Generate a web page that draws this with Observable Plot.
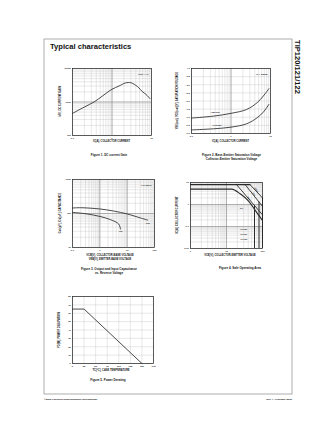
<!DOCTYPE html>
<html><head><meta charset="utf-8">
<script src="https://cdn.jsdelivr.net/npm/d3@7"></script>
<script src="https://cdn.jsdelivr.net/npm/@observablehq/plot@0.6"></script>
<style>
html,body{margin:0;padding:0;background:#fff;}
#page{position:relative;width:336px;height:434px;overflow:hidden;font-family:"Liberation Sans",Arial,sans-serif;}
#page svg.fig{position:absolute;}
</style></head><body><div id="page"></div>
<script>
// ---------- data ----------
// Figure 1: DC current gain (VCE = 4V)
const fig1Current = [0.1, 0.2, 0.35, 0.5, 1, 1.5, 2.2, 3, 4.4, 6, 7.2, 9.2];
const fig1Gain    = [457, 708, 1000, 1340, 2400, 2990, 3700, 3750, 2900, 1995, 1700, 1260];
const fig1XTicks = [0.1, 1, 10];
const fig1YTicks = [100, 1000, 10000];

// Figure 2: saturation voltages (IC = 250 IB)
const fig2Current = [0.1, 0.36, 1, 2.5, 4.6, 6.6, 9.1];
const fig2Vbe     = [0.95, 1.07, 1.24, 1.48, 1.9, 2.31, 2.76];
const fig2Vce     = [0.22, 0.29, 0.39, 0.6, 0.97, 1.32, 1.79];
const fig2XTicks = [0.1, 1, 10];
const fig2YTicks = [0, 0.5, 1, 1.5, 2, 2.5, 3, 3.5, 4];

// Figure 3: capacitance vs reverse voltage (f = 0.1MHz)
const fig3CobV = [0.1, 0.2, 1, 3.2, 10, 30.6, 56];
const fig3Cob  = [145, 148, 136, 118, 97, 74, 64];
const fig3CibV = [0.1, 0.34, 1, 2.45, 4.9, 5.7];
const fig3Cib  = [108, 97, 82, 66, 49, 35];
const fig3XTicks = [0.1, 1, 10, 100];
const fig3YTicks = [10, 100, 1000];

// Figure 4: safe operating area
const soaPulseV = [1, 45];        const soaPulseI = [8, 8];
const soa5msV   = [19, 100];      const soa5msI   = [8, 0.34];
const soa1msV   = [33, 100];      const soa1msI   = [8, 0.82];
const soa100usV = [45, 100];      const soa100usI = [8, 2.0];
const soaDcV = [1, 13.9, 24, 41.7, 61.6, 80, 100];
const soaDcI = [5, 5, 3.08, 1.4, 0.57, 0.31, 0.19];
const soaLimitV = [60, 80, 100];
const soaLimitTop = [0.9, 1.29, 2.0];
const soaLimitNames = ["TIP120", "TIP121", "TIP122"];
const fig4XTicks = [1, 10, 100];
const fig4YTicks = [0.01, 0.1, 1, 10];

// Figure 5: power derating
const fig5Temp  = [0, 25, 150];
const fig5Power = [65, 65, 0];
const fig5XTicks = [0, 25, 50, 75, 100, 125, 150, 175];
const fig5YTicks = [0, 10, 20, 30, 40, 50, 60, 70, 80];

// ---------- helpers ----------
const page = document.getElementById("page");
const INK = "#2a2a2a";
const TICKFS = 2.4;
function logGrid(lo, hi) {
  const v = [];
  for (let d = lo; d < hi * 0.999; d *= 10) for (let k = 1; k < 10; k++) v.push(+(d * k).toPrecision(3));
  v.push(hi);
  return v;
}
const zip = (a, b) => a.map((v, i) => ({x: v, y: b[i]}));
function place(svg, fx, fy, ml, mt) {
  svg.classList.add("fig");
  svg.style.left = (fx - ml) + "px";
  svg.style.top = (fy - mt) + "px";
  page.appendChild(svg);
}
function makePlot(frame, xs, ys, marks) {
  const ml = 14, mr = 5, mt = 4, mb = 8;
  const w = frame.x1 - frame.x0, h = frame.y1 - frame.y0;
  const svg = Plot.plot({
    width: w + ml + mr, height: h + mt + mb,
    marginLeft: ml, marginRight: mr, marginTop: mt, marginBottom: mb,
    x: {...xs, label: null}, y: {...ys, label: null},
    style: {background: "transparent", overflow: "visible", fontFamily: "Liberation Sans, Arial, sans-serif", color: INK},
    marks: [
      ...marks,
      Plot.frame({stroke: INK, strokeWidth: 0.75})
    ]
  });
  place(svg, frame.x0, frame.y0, ml, mt);
}
const gridMinor = {stroke: "#bdbdbd", strokeWidth: 0.35};
const gridMajor = {stroke: "#808080", strokeWidth: 0.55};
const fmt = d => String(d);
const axX = t => Plot.axisX({ticks: t, tickFormat: fmt, tickSize: 0, tickPadding: 1.6, fontSize: TICKFS, fontWeight: "bold", label: null});
const axY = (t, f = fmt) => Plot.axisY({ticks: t, tickFormat: f, tickSize: 0, tickPadding: 1.6, fontSize: TICKFS, fontWeight: "bold", label: null});
const note = s => Plot.text([s], {text: d => d, frameAnchor: "top-right", dx: -3, dy: 5, fontSize: 2.4, fontWeight: "bold", fill: INK});

// ---------- Figure 1 ----------
makePlot({x0: 72, x1: 151, y0: 68, y1: 135},
  {type: "log", domain: [0.1, 10]}, {type: "log", domain: [100, 10000]}, [
  Plot.ruleX(logGrid(0.1, 10), gridMinor),
  Plot.ruleY(logGrid(100, 10000), gridMinor),
  Plot.ruleX([1], gridMajor), Plot.ruleY([1000], gridMajor),
  Plot.line(zip(fig1Current, fig1Gain), {x: "x", y: "y", curve: "catmull-rom", stroke: INK, strokeWidth: 0.85}),
  axX(fig1XTicks), axY(fig1YTicks),
  note("VCE = 4V")
]);

// ---------- Figure 2 ----------
makePlot({x0: 191, x1: 270, y0: 68, y1: 133},
  {type: "log", domain: [0.1, 10]}, {domain: [0, 4]}, [
  Plot.ruleX(logGrid(0.1, 10), gridMinor),
  Plot.ruleY(fig2YTicks, gridMinor),
  Plot.ruleX([1], gridMajor),
  Plot.line(zip(fig2Current, fig2Vbe), {x: "x", y: "y", curve: "catmull-rom", stroke: INK, strokeWidth: 0.85}),
  Plot.line(zip(fig2Current, fig2Vce), {x: "x", y: "y", curve: "catmull-rom", stroke: INK, strokeWidth: 0.85}),
  Plot.text(["VBE(sat)"], {text: d => d, x: [0.4], y: [1.3], fontSize: 2.2, fontWeight: "bold", fill: INK}),
  Plot.text(["VCE(sat)"], {text: d => d, x: [0.44], y: [0.5], fontSize: 2.2, fontWeight: "bold", fill: INK}),
  axX(fig2XTicks), axY(fig2YTicks, d => d.toFixed(1)),
  note("IC = 250IB")
]);

// ---------- Figure 3 ----------
makePlot({x0: 72, x1: 154, y0: 179, y1: 247},
  {type: "log", domain: [0.1, 100]}, {type: "log", domain: [10, 1000]}, [
  Plot.ruleX(logGrid(0.1, 100), gridMinor),
  Plot.ruleY(logGrid(10, 1000), gridMinor),
  Plot.ruleX([1, 10], gridMajor), Plot.ruleY([100], gridMajor),
  Plot.line(zip(fig3CobV, fig3Cob), {x: "x", y: "y", curve: "catmull-rom", stroke: INK, strokeWidth: 0.85}),
  Plot.line(zip(fig3CibV, fig3Cib), {x: "x", y: "y", curve: "catmull-rom", stroke: INK, strokeWidth: 0.85}),
  Plot.text(["Cob"], {text: d => d, x: [57], y: [52], fontSize: 2.2, fontWeight: "bold", fill: INK}),
  Plot.text(["Cib"], {text: d => d, x: [5.8], y: [29], fontSize: 2.2, fontWeight: "bold", fill: INK}),
  axX(fig3XTicks), axY(fig3YTicks),
  note("f=0.1MHz")
]);

// ---------- Figure 4 ----------
makePlot({x0: 190, x1: 262, y0: 182, y1: 248},
  {type: "log", domain: [1, 100]}, {type: "log", domain: [0.01, 10]}, [
  Plot.ruleX(logGrid(1, 100), gridMinor),
  Plot.ruleY(logGrid(0.01, 10), gridMinor),
  Plot.ruleX([10], gridMajor), Plot.ruleY([0.1, 1], gridMajor),
  Plot.line(zip(soaPulseV, soaPulseI), {x: "x", y: "y", stroke: INK, strokeWidth: 1.1}),
  Plot.line(zip(soa5msV, soa5msI), {x: "x", y: "y", stroke: INK, strokeWidth: 0.9}),
  Plot.line(zip(soa1msV, soa1msI), {x: "x", y: "y", stroke: INK, strokeWidth: 0.9}),
  Plot.line(zip(soa100usV, soa100usI), {x: "x", y: "y", stroke: INK, strokeWidth: 0.9}),
  Plot.line(zip(soaDcV, soaDcI), {x: "x", y: "y", curve: "monotone-x", stroke: INK, strokeWidth: 1.1}),
  Plot.ruleX(soaLimitV.map((v, i) => ({v, top: soaLimitTop[i]})), {x: "v", y1: 0.01, y2: "top", stroke: INK, strokeWidth: 1.0}),
  Plot.text(["5ms"], {text: d => d, x: [42], y: [1.9], rotate: 49, fontSize: 2.1, fontWeight: "bold", fill: INK}),
  Plot.text(["1ms"], {text: d => d, x: [58], y: [3.0], rotate: 49, fontSize: 2.1, fontWeight: "bold", fill: INK}),
  Plot.text(["100µs"], {text: d => d, x: [68], y: [4.6], rotate: 49, fontSize: 2.1, fontWeight: "bold", fill: INK}),
  Plot.text(["DC"], {text: d => d, x: [26], y: [0.65], fontSize: 2.1, fontWeight: "bold", fill: INK}),
  Plot.text(soaLimitNames, {text: d => d, x: [30, 30, 30], y: [0.072, 0.042, 0.026], fontSize: 2.1, fontWeight: "bold", fill: INK}),
  axX(fig4XTicks), axY(fig4YTicks)
]);

// ---------- Figure 5 ----------
makePlot({x0: 72, x1: 153, y0: 296, y1: 363},
  {domain: [0, 175]}, {domain: [0, 80]}, [
  Plot.ruleX(fig5XTicks, gridMinor),
  Plot.ruleY(fig5YTicks, gridMinor),
  Plot.line(zip(fig5Temp, fig5Power), {x: "x", y: "y", stroke: INK, strokeWidth: 0.85}),
  axX(fig5XTicks), axY(fig5YTicks)
]);

// ---------- page texts ----------
const ov = d3.select(page).append("svg")
  .attr("width", 336).attr("height", 434)
  .style("position", "absolute").style("left", "0px").style("top", "0px")
  .style("font-family", "Liberation Sans, Arial, sans-serif");
ov.append("rect").attr("x", 44).attr("y", 39).attr("width", 248).attr("height", 355)
  .attr("fill", "none").attr("stroke", "#9a9a9a").attr("stroke-width", 0.8);
function t(x, y, s, size, opts = {}) {
  const e = ov.append("text").attr("x", x).attr("y", y).text(s)
    .attr("font-size", size).attr("fill", opts.fill || "#111")
    .attr("font-weight", opts.weight || "bold")
    .attr("text-anchor", opts.anchor || "middle");
  if (opts.rot) e.attr("transform", `rotate(${opts.rot},${x},${y})`);
  return e;
}
t(50, 49, "Typical characteristics", 7.6, {anchor: "start"});
t(295, 40, "TIP120/121/122", 7.6, {anchor: "start", rot: 90});
// figure 1
t(111.5, 142, "IC[A], COLLECTOR CURRENT", 2.6);
t(61, 101.5, "hFE, DC CURRENT GAIN", 2.6, {rot: -90});
t(109, 155.5, "Figure 1. DC current Gain", 3);
// figure 2
t(230.5, 141.5, "IC[A], COLLECTOR CURRENT", 2.6);
t(177.5, 100.5, "VBE(sat), VCE(sat)[V], SATURATION VOLTAGE", 2.6, {rot: -90});
t(231.5, 155.5, "Figure 2. Base-Emitter Saturation Voltage", 3);
t(231.5, 159.8, "Collector-Emitter Saturation Voltage", 3);
// figure 3
t(110, 255.5, "VCB[V], COLLECTOR-BASE VOLTAGE", 2.6);
t(110, 259.5, "VEB[V], EMITTER-BASE VOLTAGE", 2.6);
t(60.5, 213, "Cob[pF], Cib[pF], CAPACITANCE", 2.6, {rot: -90});
t(109, 269.5, "Figure 3. Output and Input Capacitance", 3);
t(109, 273.8, "vs. Reverse Voltage", 3);
// figure 4
t(230, 255.5, "VCE[V], COLLECTOR-EMITTER VOLTAGE", 2.6);
t(177.5, 215, "IC[A], COLLECTOR CURRENT", 2.6, {rot: -90});
t(240, 269, "Figure 4. Safe Operating Area", 3);
// figure 5
t(111, 371, "TC[°C], CASE TEMPERATURE", 2.6);
t(59.5, 330, "PD[W], POWER DISSIPATION", 2.6, {rot: -90});
t(108, 380.5, "Figure 5. Power Derating", 3);
// footer
t(44, 400, "©2000 Fairchild Semiconductor International", 2.5, {anchor: "start"});
t(292, 400, "Rev. A, February 2000", 2.5, {anchor: "end"});
</script>
</body></html>
